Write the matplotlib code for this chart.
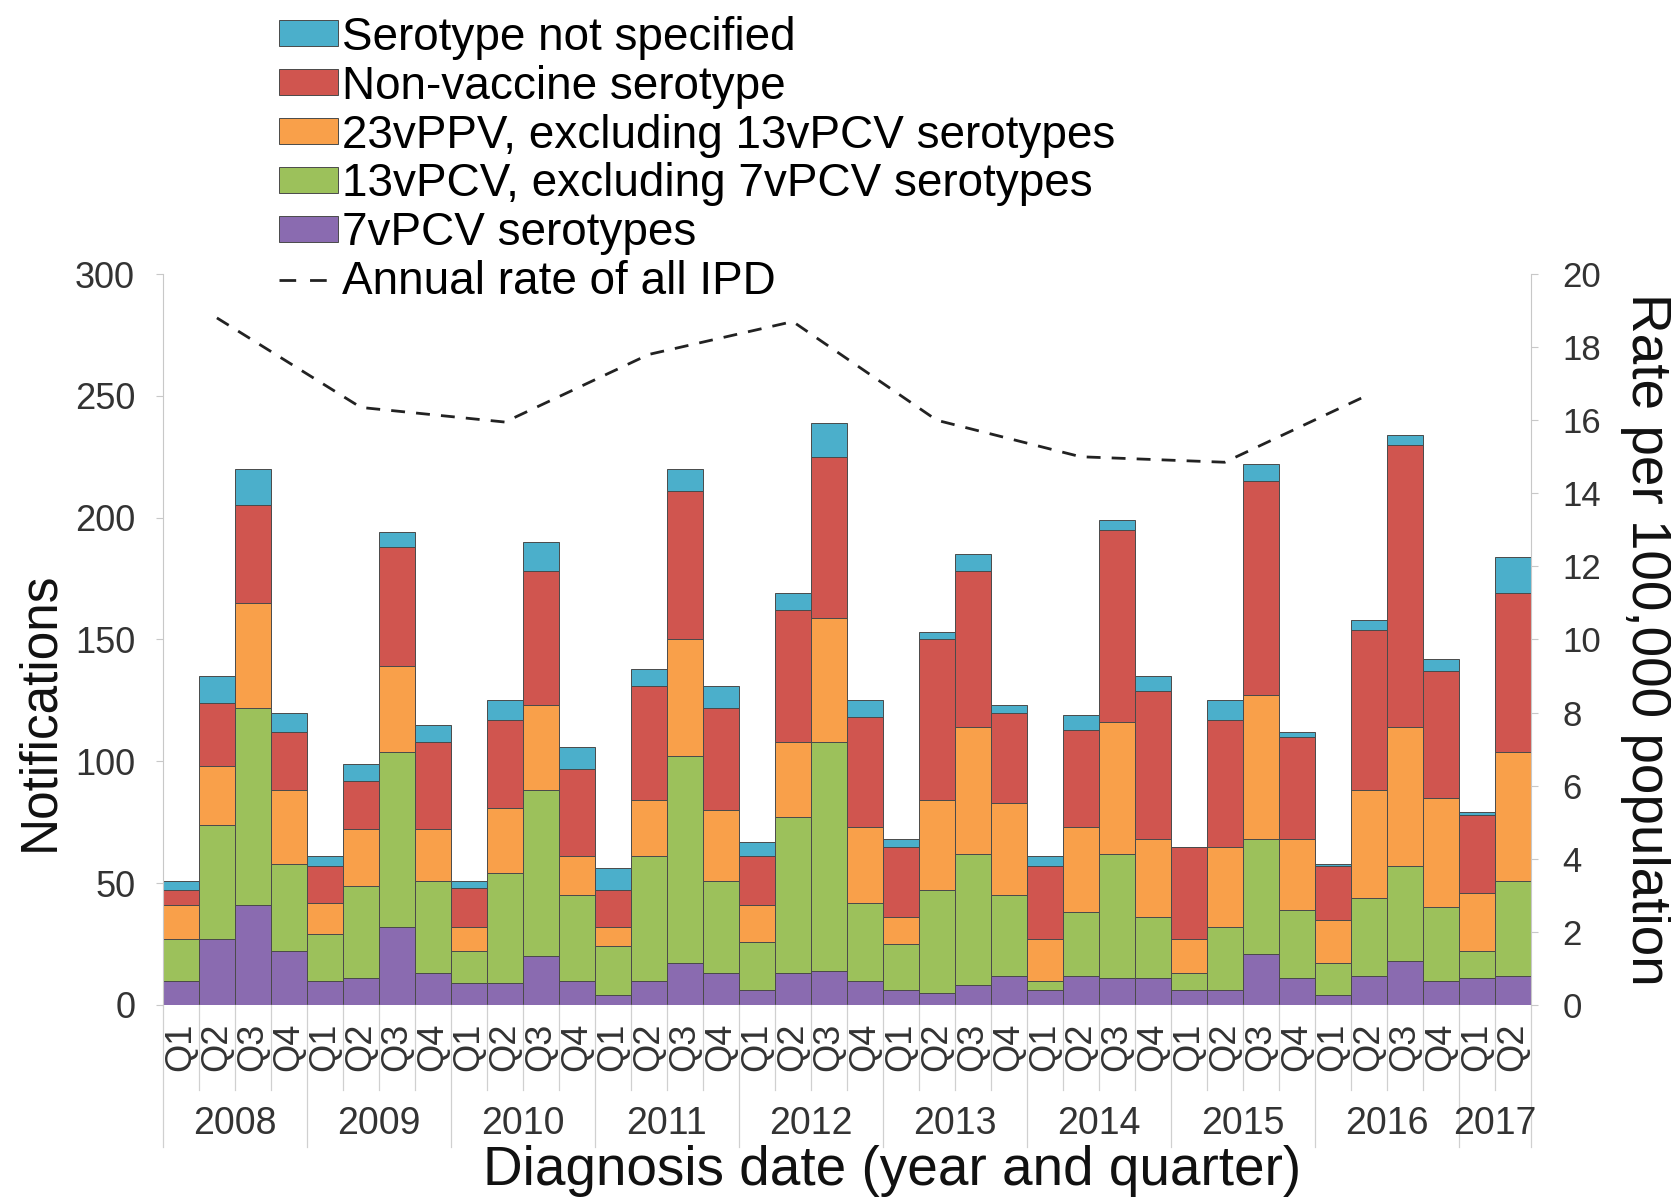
import matplotlib
matplotlib.use("Agg")
import matplotlib.pyplot as plt
from matplotlib.lines import Line2D
import numpy as np

plt.rcParams['font.family'] = ['Liberation Sans', 'DejaVu Sans']

years = ['2008', '2009', '2010', '2011', '2012', '2013', '2014', '2015', '2016', '2017']
quarters = ['Q1', 'Q2', 'Q3', 'Q4'] * 9 + ['Q1', 'Q2']

# notifications per quarter, 2008 Q1 .. 2017 Q2
pcv7 = [10, 27, 41, 22, 10, 11, 32, 13, 9, 9, 20, 10, 4, 10, 17, 13, 6, 13, 14, 10,
        6, 5, 8, 12, 6, 12, 11, 11, 6, 6, 21, 11, 4, 12, 18, 10, 11, 12]
pcv13_ex7 = [17, 47, 81, 36, 19, 38, 72, 38, 13, 45, 68, 35, 20, 51, 85, 38, 20, 64, 94, 32,
             19, 42, 54, 33, 4, 26, 51, 25, 7, 26, 47, 28, 13, 32, 39, 30, 11, 39]
ppv23_ex13 = [14, 24, 43, 30, 13, 23, 35, 21, 10, 27, 35, 16, 8, 23, 48, 29, 15, 31, 51, 31,
              11, 37, 52, 38, 17, 35, 54, 32, 14, 33, 59, 29, 18, 44, 57, 45, 24, 53]
non_vaccine = [6, 26, 40, 24, 15, 20, 49, 36, 16, 36, 55, 36, 15, 47, 61, 42, 20, 54, 66, 45,
               29, 66, 64, 37, 30, 40, 79, 61, 38, 52, 88, 42, 22, 66, 116, 52, 32, 65]
not_specified = [4, 11, 15, 8, 4, 7, 6, 7, 3, 8, 12, 9, 9, 7, 9, 9, 6, 7, 14, 7,
                 3, 3, 7, 3, 4, 6, 4, 6, 0, 8, 7, 2, 1, 4, 4, 5, 1, 15]

# annual rate, plotted at Q2 of each year 2008..2016
rate_pos = [1, 5, 9, 13, 17, 21, 25, 29, 33]
annual_rate = [18.8, 16.35, 15.95, 17.8, 18.7, 16.0, 15.0, 14.85, 16.7]

series = [
    (pcv7, '#8A6BB0', '7vPCV serotypes'),
    (pcv13_ex7, '#9CC15B', '13vPCV, excluding 7vPCV serotypes'),
    (ppv23_ex13, '#F9A04A', '23vPPV, excluding 13vPCV serotypes'),
    (non_vaccine, '#D0554F', 'Non-vaccine serotype'),
    (not_specified, '#4BAFCB', 'Serotype not specified'),
]

fig = plt.figure(figsize=(16.71, 12.02), dpi=100)
ax = fig.add_axes([0.0975, 0.164, 0.8185, 0.608])
ax2 = ax.twinx()

x = np.arange(len(quarters))
bottom = np.zeros(len(quarters))
handles = {}
for vals, col, lab in series:
    b = ax.bar(x, vals, width=1.0, bottom=bottom, color=col, edgecolor='#4a4a4a',
               linewidth=0.7, label=lab, zorder=2)
    handles[lab] = b
    bottom += np.array(vals)

ax2.plot(rate_pos, annual_rate, color='#222222', lw=2.0, dashes=(5, 4))

ax.set_xlim(-0.5, len(quarters) - 0.5)
ax.set_ylim(0, 300)
ax2.set_ylim(0, 20)
ax.set_yticks(range(0, 301, 50))
ax2.set_yticks(range(0, 21, 2))

for a in (ax, ax2):
    for s in ['top', 'bottom']:
        a.spines[s].set_visible(False)
    a.spines['left'].set_color('#c8c8c8')
    a.spines['right'].set_color('#c8c8c8')
ax2.spines['left'].set_visible(False)
ax.spines['right'].set_visible(False)
ax.tick_params(axis='y', labelsize=26, colors='#c8c8c8', labelcolor='#333333', length=5, pad=15)
ax2.tick_params(axis='y', labelsize=25, colors='#c8c8c8', labelcolor='#333333', length=5, pad=18)

# quarter labels
ax.set_xticks(x)
ax.set_xticklabels(quarters, rotation=90, fontsize=26, color='#333333')
ax.tick_params(axis='x', length=0, pad=13)

# separators below the axis
tr = ax.get_xaxis_transform()
for i in range(len(quarters) + 1):
    xe = i - 0.5
    if i % 4 == 0 or i == len(quarters):
        ylow = -0.194
    else:
        ylow = -0.116
    ax.plot([xe, xe], [0, ylow], color='#d0d0d0', lw=0.9, transform=tr, clip_on=False)

# year labels
for k, yr in enumerate(years):
    start = 4 * k
    end = min(start + 4, len(quarters))
    ax.text((start + end - 1) / 2, -0.163, yr, transform=tr, ha='center', va='center',
            fontsize=27, color='#333333')

fig.text(0.534, 0.026, 'Diagnosis date (year and quarter)', ha='center', va='center',
         fontsize=39.5, color='#111111')
fig.text(0.0235, 0.408, 'Notifications', rotation=90, ha='center', va='center',
         fontsize=37, color='#111111')
fig.text(0.985, 0.468, 'Rate per 100,000 population', rotation=-90, ha='center',
         va='center', fontsize=39.5, color='#111111')

order = ['Serotype not specified', 'Non-vaccine serotype',
         '23vPPV, excluding 13vPCV serotypes', '13vPCV, excluding 7vPCV serotypes',
         '7vPCV serotypes']
rate_handle = Line2D([], [], color='#222222', lw=2.0, dashes=(6, 5))
leg_handles = [handles[o] for o in order] + [rate_handle]
leg_labels = order + ['Annual rate of all IPD']
fig.legend(leg_handles, leg_labels, loc='upper left', bbox_to_anchor=(0.167, 0.987),
           frameon=False, fontsize=33, handlelength=1.28, handleheight=0.5,
           handletextpad=0.1, labelspacing=0.108, borderpad=0, borderaxespad=0)

fig.savefig('out.png', dpi=100)
